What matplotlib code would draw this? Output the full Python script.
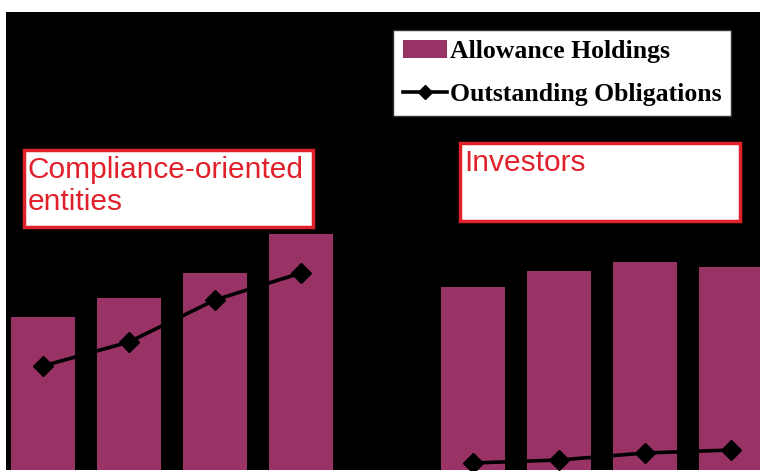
import numpy as np
import matplotlib.pyplot as plt
from matplotlib.patches import Rectangle
from matplotlib.lines import Line2D

# two groups of four bars, one empty slot between them
positions = [0, 1, 2, 3, 5, 6, 7, 8]
holdings = [153, 172, 197, 236, 183, 199, 208, 203]
obligations = [104, 128, 170, 197, 7, 10, 17, 20]
groups = ['Compliance-oriented\nentities', 'Investors']

bar_color = '#993366'
red = '#e0202a'

fig = plt.figure(figsize=(7.6, 4.72), dpi=100)
fig.patch.set_facecolor('white')
ax = fig.add_axes([6 / 760, 2 / 472, 754 / 760, 458 / 472])
ax.set_facecolor('black')

bars = ax.bar(positions, holdings, width=0.75, color=bar_color, zorder=2)
ax.plot(positions[:4], obligations[:4], color='black', lw=2.6, marker='D', ms=10, zorder=3)
ax.plot(positions[4:], obligations[4:], color='black', lw=2.6, marker='D', ms=10, zorder=3)

ax.set_xlim(-0.43, 8.34)
ax.set_ylim(0, 458)
ax.set_xticks([])
ax.set_yticks([])
for s in ax.spines.values():
    s.set_visible(False)

line_handle = Line2D([], [], color='black', lw=2.6, marker='D', ms=7)
leg = ax.legend([bars, line_handle], ['Allowance Holdings', 'Outstanding Obligations'],
                loc='upper left', bbox_to_anchor=(393 / 760, 1 - 30 / 472),
                bbox_transform=fig.transFigure, frameon=True, fancybox=False,
                framealpha=1, facecolor='white',
                prop={'family': 'Liberation Serif', 'weight': 'bold', 'size': 18.5},
                handlelength=1.7, handletextpad=0.1, borderpad=0.4, labelspacing=0.75,
                borderaxespad=0)
leg.get_frame().set_edgecolor('#333333')
leg.get_frame().set_linewidth(1.0)

# red-framed group labels
boxes = [(24, 150, 289, 77), (460, 143, 280, 78)]
for (x, y, w, h), name in zip(boxes, groups):
    fig.patches.append(Rectangle((x / 760, 1 - (y + h) / 472), w / 760, h / 472,
                                 transform=fig.transFigure, facecolor='white',
                                 edgecolor=red, lw=2.5, zorder=5))
    fig.text((x + 4) / 760, 1 - (y + 6) / 472, name, color=red, fontsize=21.5,
             family='Liberation Sans', va='top', ha='left', linespacing=1.2, zorder=6)

fig.savefig('out.png', dpi=100, facecolor='white')
